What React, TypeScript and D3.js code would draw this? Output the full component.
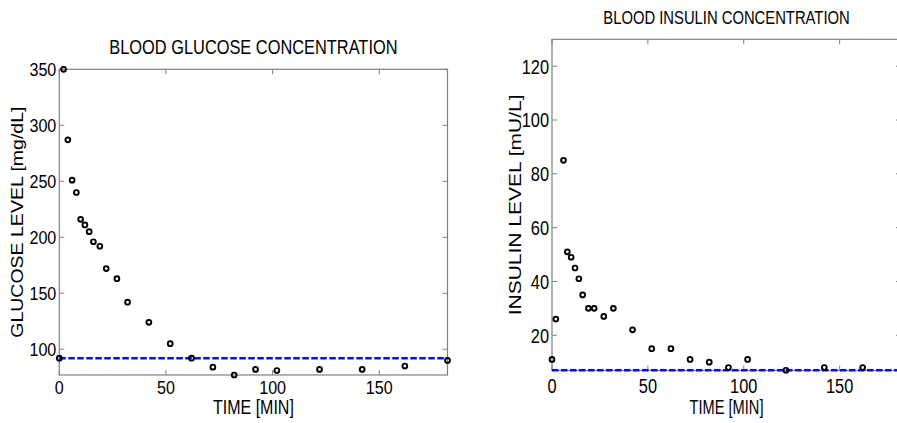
import React from "react";
import * as d3 from "d3";

// ---- data ----
const glucoseTimes = [0, 2, 4, 6, 8, 10, 12, 14, 16, 19, 22, 27, 32, 42, 52, 62, 72, 82, 92, 102, 122, 142, 162, 182];
const glucoseValues = [92, 350, 287, 251, 240, 216, 211, 205, 196, 192, 172, 163, 142, 124, 105, 92, 84, 77, 82, 81, 82, 82, 85, 90];
const insulinTimes = [0, 2, 6, 8, 10, 12, 14, 16, 19, 22, 27, 32, 42, 52, 62, 72, 82, 92, 102, 122, 142, 162, 182];
const insulinValues = [11, 26, 85, 51, 49, 45, 41, 35, 30, 30, 27, 30, 22, 15, 15, 11, 10, 8, 11, 7, 8, 8, 7];
const basalGlucose = 92;
const basalInsulin = 7;
const timeTicks = [0, 50, 100, 150];
const glucoseTicks = [100, 150, 200, 250, 300, 350];
const insulinTicks = [20, 40, 60, 80, 100, 120];
const glucoseTitle = "BLOOD GLUCOSE CONCENTRATION";
const insulinTitle = "BLOOD INSULIN CONCENTRATION";
const glucoseLabel = "GLUCOSE LEVEL [mg/dL]";
const insulinLabel = "INSULIN LEVEL [mU/L]";
const timeLabel = "TIME [MIN]";

const FONT = "'Liberation Sans', Arial, Helvetica, sans-serif";

type PanelCfg = {
  times: number[];
  values: number[];
  basal: number;
  xDomain: [number, number];
  yDomain: [number, number];
  yTicks: number[];
  title: string;
  ylabel: string;
  box: { x0: number; x1: number; y0: number; y1: number };
  titleY: number;
  titleSize: number;
  titleSx: number;
  tickSize: number;
  tickSx: number;
  xTickY: number;
  xlabelY: number;
  xlabelSize: number;
  xlabelSx: number;
  ylabelX: number;
  ylabelSize: number;
  ylabelSx: number;
};

const panels: PanelCfg[] = [
  {
    times: glucoseTimes,
    values: glucoseValues,
    basal: basalGlucose,
    xDomain: [0, 182],
    yDomain: [77, 350],
    yTicks: glucoseTicks,
    title: glucoseTitle,
    ylabel: glucoseLabel,
    box: { x0: 59.3, x1: 447.5, y0: 69.3, y1: 375 },
    titleY: 54,
    titleSize: 20,
    titleSx: 0.82,
    tickSize: 18.5,
    tickSx: 0.87,
    xTickY: 394,
    xlabelY: 414,
    xlabelSize: 20,
    xlabelSx: 0.8,
    ylabelX: 23,
    ylabelSize: 19.5,
    ylabelSx: 0.82,
  },
  {
    times: insulinTimes,
    values: insulinValues,
    basal: basalInsulin,
    xDomain: [0, 182],
    yDomain: [6.9, 130],
    yTicks: insulinTicks,
    title: insulinTitle,
    ylabel: insulinLabel,
    box: { x0: 552, x1: 901, y0: 39.3, y1: 370.5 },
    titleY: 24,
    titleSize: 19,
    titleSx: 0.78,
    tickSize: 20.5,
    tickSx: 0.8,
    xTickY: 393,
    xlabelY: 414,
    xlabelSize: 19.5,
    xlabelSx: 0.75,
    ylabelX: 521,
    ylabelSize: 21,
    ylabelSx: 0.76,
  },
];

function SText(props: {
  x: number;
  y: number;
  size: number;
  sx: number;
  anchor?: string;
  rotate?: boolean;
  dy?: string;
  children: React.ReactNode;
}) {
  const { x, y, size, sx, anchor = "middle", rotate = false, dy, children } = props;
  const t = rotate
    ? `translate(${x},${y}) rotate(-90) scale(1,${sx})`
    : `translate(${x},${y}) scale(${sx},1)`;
  return (
    <text
      transform={t}
      fontSize={size}
      fontFamily={FONT}
      textAnchor={anchor}
      dy={dy}
      fill="#000"
    >
      {children}
    </text>
  );
}

function Panel({ p }: { p: PanelCfg }) {
  const { box } = p;
  const x = d3.scaleLinear().domain(p.xDomain).range([box.x0, box.x1]);
  const y = d3.scaleLinear().domain(p.yDomain).range([box.y1, box.y0]);
  const tl = 5;
  const axisColor = "#808080";
  const cx = (box.x0 + box.x1) / 2;
  const cy = (box.y0 + box.y1) / 2;
  const basalLine = d3.line<number>()
    .x((d) => x(d))
    .y(() => y(p.basal));
  return (
    <g>
      <rect
        x={box.x0}
        y={box.y0}
        width={box.x1 - box.x0}
        height={box.y1 - box.y0}
        fill="white"
        stroke={axisColor}
        strokeWidth={1.2}
      />
      {timeTicks.map((t) => (
        <g key={"xt" + t}>
          <line x1={x(t)} x2={x(t)} y1={box.y1} y2={box.y1 - tl} stroke={axisColor} />
          <line x1={x(t)} x2={x(t)} y1={box.y0} y2={box.y0 + tl} stroke={axisColor} />
          <SText x={x(t)} y={p.xTickY} size={p.tickSize} sx={p.tickSx}>
            {t}
          </SText>
        </g>
      ))}
      {p.yTicks.map((v) => (
        <g key={"yt" + v}>
          <line x1={box.x0} x2={box.x0 + tl} y1={y(v)} y2={y(v)} stroke={axisColor} />
          <line x1={box.x1} x2={box.x1 - tl} y1={y(v)} y2={y(v)} stroke={axisColor} />
          <SText x={box.x0 - 3} y={y(v)} size={p.tickSize} sx={p.tickSx} anchor="end" dy="0.36em">
            {v}
          </SText>
        </g>
      ))}
      <path
        d={basalLine(p.xDomain) || ""}
        stroke="#0a0aee"
        strokeWidth={2.6}
        strokeDasharray="6.5,2.5"
        fill="none"
      />
      {p.times.map((t, i) => (
        <circle
          key={"pt" + i}
          cx={x(t)}
          cy={y(p.values[i])}
          r={2.4}
          fill="none"
          stroke="#000"
          strokeWidth={1.9}
        />
      ))}
      <SText x={cx} y={p.titleY} size={p.titleSize} sx={p.titleSx}>
        {p.title}
      </SText>
      <SText x={cx} y={p.xlabelY} size={p.xlabelSize} sx={p.xlabelSx}>
        {timeLabel}
      </SText>
      <SText x={p.ylabelX} y={cy} size={p.ylabelSize} sx={p.ylabelSx} rotate>
        {p.ylabel}
      </SText>
    </g>
  );
}

export default function App() {
  return (
    <svg
      width={897}
      height={423}
      style={{ position: "absolute", left: 0, top: 0, display: "block", background: "white" }}
    >
      <rect x={0} y={0} width={897} height={423} fill="white" />
      {panels.map((p, i) => (
        <Panel key={i} p={p} />
      ))}
    </svg>
  );
}
